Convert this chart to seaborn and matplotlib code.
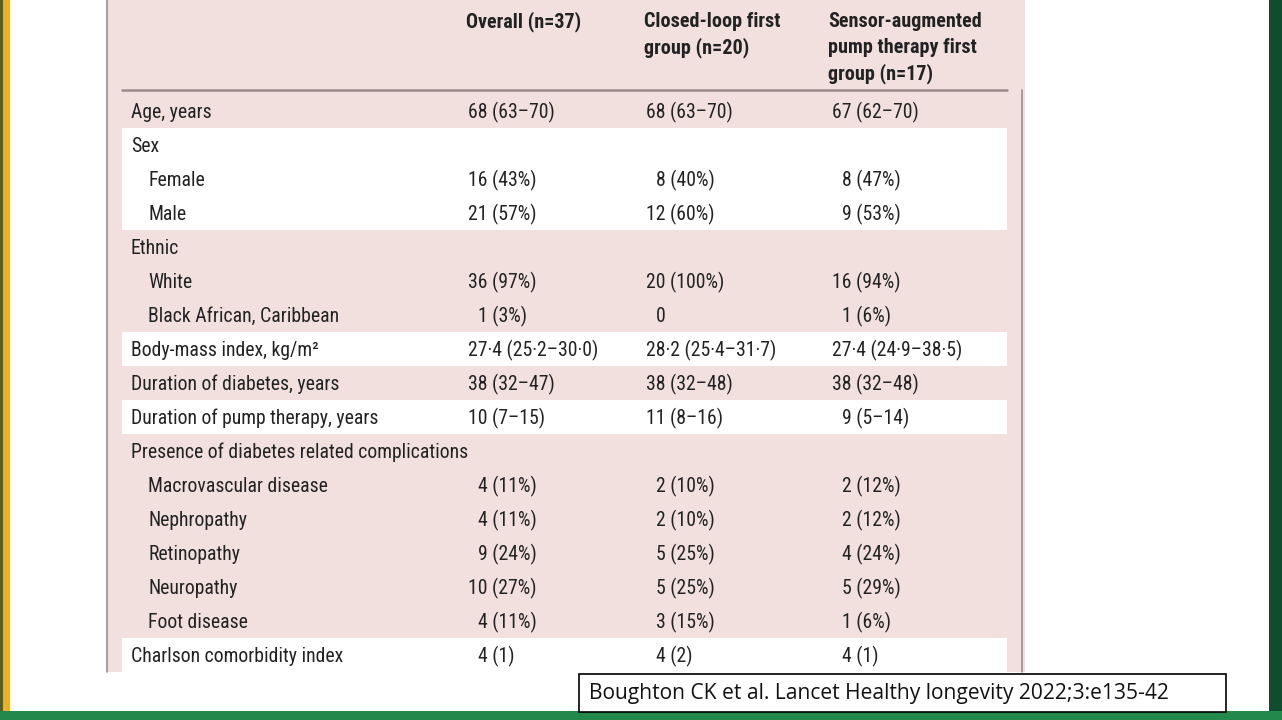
import matplotlib
matplotlib.use('Agg')
import matplotlib.pyplot as plt
from matplotlib import font_manager
from matplotlib.colors import ListedColormap
from matplotlib.patches import Rectangle
import numpy as np
import pandas as pd
import seaborn as sns

# --- Table content ---
row_labels = [
    'Age, years', 'Sex', 'Female', 'Male', 'Ethnic', 'White',
    'Black African, Caribbean', 'Body-mass index, kg/m\u00b2',
    'Duration of diabetes, years', 'Duration of pump therapy, years',
    'Presence of diabetes related complications', 'Macrovascular disease',
    'Nephropathy', 'Retinopathy', 'Neuropathy', 'Foot disease',
    'Charlson comorbidity index',
]
indented = [0, 0, 1, 1, 0, 1, 1, 0, 0, 0, 0, 1, 1, 1, 1, 1, 0]
overall = [
    '68 (63\u201370)', '', '16 (43%)', '21 (57%)', '', '36 (97%)', '1 (3%)',
    '27\u00b74 (25\u00b72\u201330\u00b70)', '38 (32\u201347)', '10 (7\u201315)', '',
    '4 (11%)', '4 (11%)', '9 (24%)', '10 (27%)', '4 (11%)', '4 (1)',
]
closed_loop = [
    '68 (63\u201370)', '', '8 (40%)', '12 (60%)', '', '20 (100%)', '0',
    '28\u00b72 (25\u00b74\u201331\u00b77)', '38 (32\u201348)', '11 (8\u201316)', '',
    '2 (10%)', '2 (10%)', '5 (25%)', '5 (25%)', '3 (15%)', '4 (2)',
]
sensor_pump = [
    '67 (62\u201370)', '', '8 (47%)', '9 (53%)', '', '16 (94%)', '1 (6%)',
    '27\u00b74 (24\u00b79\u201338\u00b75)', '38 (32\u201348)', '9 (5\u201314)', '',
    '2 (12%)', '2 (12%)', '4 (24%)', '5 (29%)', '1 (6%)', '4 (1)',
]
# 1 = white band, 0 = pink band
white_band = [0, 1, 1, 1, 0, 0, 0, 1, 0, 1, 0, 0, 0, 0, 0, 0, 1]

col_headers = [
    ['Overall (n=37)'],
    ['Closed-loop first', 'group (n=20)'],
    ['Sensor-augmented', 'pump therapy first', 'group (n=17)'],
]
citation = 'Boughton CK et al. Lancet Healthy longevity 2022;3:e135-42'

# --- Style ---
W, H = 1282, 720
PINK = '#f2e0df'
LINE = '#9c8c8c'
TXT = '#222222'

sns.set_theme(style='white')

installed = {f.name for f in font_manager.fontManager.ttflist}
body_font = 'Lato'
for cand in ['Liberation Sans Narrow', 'Roboto Condensed', 'Lato']:
    if cand in installed:
        body_font = cand
        break
cite_font = 'Open Sans' if 'Open Sans' in installed else 'DejaVu Sans'
plt.rcParams['font.family'] = [body_font, 'DejaVu Sans']

fig = plt.figure(figsize=(W / 100, H / 100), dpi=100)
fig.patch.set_facecolor('white')
renderer = fig.canvas.get_renderer()


def fit_size(s, family, weight, target_px, base=14.0):
    t = fig.text(0, 0, s, fontsize=base, family=family, weight=weight)
    w = t.get_window_extent(renderer).width
    t.remove()
    return base * target_px / w


def text_width(s, family, size, weight='normal'):
    t = fig.text(0, 0, s, fontsize=size, family=family, weight=weight)
    w = t.get_window_extent(renderer).width
    t.remove()
    return w


fs = fit_size('Presence of diabetes related complications', [body_font, 'DejaVu Sans'], 'normal', 340)
fs = min(fs, 14.5)
fs_head = fit_size('Sensor-augmented', [body_font, 'DejaVu Sans'], 'bold', 159)
fs_head = min(fs_head, 14.5)
fs_cite = fit_size(citation, cite_font, 'normal', 583)
digit_w = text_width('0', [body_font, 'DejaVu Sans'], fs)

# --- Background layer ---
bg = fig.add_axes([0, 0, 1, 1])
bg.set_xlim(0, W)
bg.set_ylim(H, 0)
bg.axis('off')
bg.add_patch(Rectangle((107, 0), 918, 672, facecolor=PINK, edgecolor='none'))
bg.add_patch(Rectangle((0, 0), 10, 711, facecolor='#e8b12a', edgecolor='none'))
bg.add_patch(Rectangle((0, 0), 2.5, 711, facecolor='#55601f', edgecolor='none'))
bg.add_patch(Rectangle((1269, 0), 13, 711, facecolor='#0f4d2f', edgecolor='none'))
bg.add_patch(Rectangle((0, 711), W, 9, facecolor='#22894b', edgecolor='none'))

# --- Row bands via seaborn heatmap ---
row_top, row_h = 94, 34
n_rows = len(row_labels)
band_ax = fig.add_axes([122 / W, (H - (row_top + row_h * n_rows)) / H,
                        885 / W, row_h * n_rows / H])
bands = pd.DataFrame({'band': white_band}, index=row_labels)
sns.heatmap(bands, ax=band_ax, cmap=ListedColormap([PINK, '#ffffff']),
            vmin=0, vmax=1, cbar=False, xticklabels=False, yticklabels=False)
band_ax.axis('off')

# --- Text layer ---
ax = fig.add_axes([0, 0, 1, 1])
ax.set_xlim(0, W)
ax.set_ylim(H, 0)
ax.patch.set_alpha(0)
ax.axis('off')

# rules
ax.plot([107, 107], [0, 672], color=LINE, lw=1.2)
ax.plot([1022, 1022], [90, 672], color=LINE, lw=1.2)
ax.plot([122, 1007], [90, 90], color=LINE, lw=1.8)

# headers
head_x = [466, 644, 828]
for x, lines in zip(head_x, col_headers):
    for k, line in enumerate(lines):
        ax.text(x, 27 + 26 * k, line, fontsize=fs_head, weight='bold',
                color=TXT, va='baseline', ha='left')

# body
cap_off = fs * 100 / 72 * 0.36
val_x = [468, 646, 832]
for i, lab in enumerate(row_labels):
    yc = row_top + row_h * i + row_h / 2
    yb = yc + cap_off
    ax.text(148 if indented[i] else 131, yb, lab, fontsize=fs, color=TXT,
            va='baseline', ha='left')
    for x, col in zip(val_x, [overall, closed_loop, sensor_pump]):
        s = col[i]
        if not s:
            continue
        lead = s.split(' ')[0].split('\u00b7')[0]
        pad = digit_w if len(lead) == 1 else 0
        ax.text(x + pad, yb, s, fontsize=fs, color=TXT, va='baseline', ha='left')

# citation box
ax.add_patch(Rectangle((579, 674), 647, 38, facecolor='white',
                       edgecolor='black', lw=1.2, zorder=3))
ax.text(589, 693, citation, fontsize=fs_cite, family=cite_font, color='#111111',
        va='center', ha='left', zorder=4)

fig.savefig('out.png', dpi=100)
